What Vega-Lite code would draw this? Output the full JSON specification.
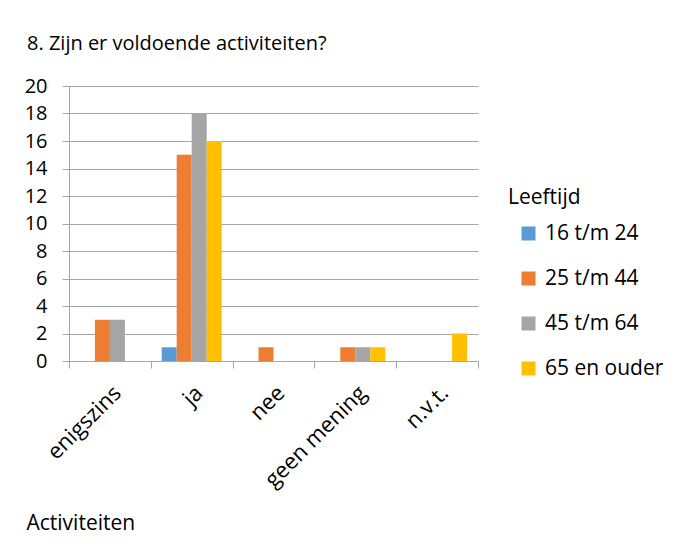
{
  "$schema": "https://vega.github.io/schema/vega-lite/v6.json",
  "width": 409,
  "height": 275,
  "autosize": {"type": "none"},
  "padding": {"left": 69, "top": 86, "right": 198, "bottom": 185},
  "background": "white",
  "title": {
    "text": "8. Zijn er voldoende activiteiten?",
    "anchor": "start",
    "frame": "group",
    "font": "Open Sans",
    "fontSize": 20,
    "fontWeight": "normal",
    "color": "black",
    "dx": -42,
    "offset": 22
  },
  "data": {
    "values": [
      {"activiteit": "enigszins", "leeftijd": "16 t/m 24", "aantal": 0},
      {"activiteit": "enigszins", "leeftijd": "25 t/m 44", "aantal": 3},
      {"activiteit": "enigszins", "leeftijd": "45 t/m 64", "aantal": 3},
      {"activiteit": "enigszins", "leeftijd": "65 en ouder", "aantal": 0},
      {"activiteit": "ja", "leeftijd": "16 t/m 24", "aantal": 1},
      {"activiteit": "ja", "leeftijd": "25 t/m 44", "aantal": 15},
      {"activiteit": "ja", "leeftijd": "45 t/m 64", "aantal": 18},
      {"activiteit": "ja", "leeftijd": "65 en ouder", "aantal": 16},
      {"activiteit": "nee", "leeftijd": "16 t/m 24", "aantal": 0},
      {"activiteit": "nee", "leeftijd": "25 t/m 44", "aantal": 1},
      {"activiteit": "nee", "leeftijd": "45 t/m 64", "aantal": 0},
      {"activiteit": "nee", "leeftijd": "65 en ouder", "aantal": 0},
      {"activiteit": "geen mening", "leeftijd": "16 t/m 24", "aantal": 0},
      {"activiteit": "geen mening", "leeftijd": "25 t/m 44", "aantal": 1},
      {"activiteit": "geen mening", "leeftijd": "45 t/m 64", "aantal": 1},
      {"activiteit": "geen mening", "leeftijd": "65 en ouder", "aantal": 1},
      {"activiteit": "n.v.t.", "leeftijd": "16 t/m 24", "aantal": 0},
      {"activiteit": "n.v.t.", "leeftijd": "25 t/m 44", "aantal": 0},
      {"activiteit": "n.v.t.", "leeftijd": "45 t/m 64", "aantal": 0},
      {"activiteit": "n.v.t.", "leeftijd": "65 en ouder", "aantal": 2}
    ]
  },
  "mark": {"type": "bar"},
  "encoding": {
    "x": {
      "field": "activiteit",
      "type": "nominal",
      "sort": ["enigszins", "ja", "nee", "geen mening", "n.v.t."],
      "scale": {"paddingInner": 0, "paddingOuter": 0},
      "axis": {
        "title": "Activiteiten",
        "titleAnchor": "start",
        "titleAlign": "left",
        "titleBaseline": "middle",
        "titleX": -43,
        "titleY": 162,
        "titleFont": "Open Sans",
        "titleFontSize": 21,
        "titleFontWeight": "normal",
        "titleColor": "black",
        "labelAngle": -45,
        "labelFont": "Open Sans",
        "labelFontSize": 22,
        "labelColor": "black",
        "labelPadding": 14,
        "labelDx": 4,
        "tickBand": "extent",
        "tickSize": 7,
        "tickColor": "#a6a6a6",
        "domainColor": "#a6a6a6",
        "grid": false
      }
    },
    "xOffset": {
      "field": "leeftijd",
      "type": "nominal",
      "sort": ["16 t/m 24", "25 t/m 44", "45 t/m 64", "65 en ouder"],
      "scale": {"paddingInner": 0, "paddingOuter": 0.726}
    },
    "y": {
      "field": "aantal",
      "type": "quantitative",
      "scale": {"domain": [0, 20]},
      "axis": {
        "title": null,
        "values": [0, 2, 4, 6, 8, 10, 12, 14, 16, 18, 20],
        "labelFont": "Open Sans",
        "labelFontSize": 20,
        "labelColor": "black",
        "labelPadding": 15,
        "tickSize": 7,
        "tickColor": "#a6a6a6",
        "domainColor": "#a6a6a6",
        "gridColor": "#a6a6a6",
        "grid": true
      }
    },
    "color": {
      "field": "leeftijd",
      "type": "nominal",
      "sort": ["16 t/m 24", "25 t/m 44", "45 t/m 64", "65 en ouder"],
      "scale": {
        "domain": ["16 t/m 24", "25 t/m 44", "45 t/m 64", "65 en ouder"],
        "range": ["#5B9BD5", "#ED7D31", "#A5A5A5", "#FFC000"]
      },
      "legend": {
        "title": "Leeftijd",
        "orient": "none",
        "legendX": 439,
        "legendY": 101,
        "padding": 0,
        "titleFont": "Open Sans",
        "titleFontSize": 21,
        "titleFontWeight": "normal",
        "titleColor": "black",
        "titlePadding": 15,
        "labelFont": "Open Sans",
        "labelFontSize": 21,
        "labelColor": "black",
        "labelOffset": 6,
        "symbolType": "square",
        "symbolSize": 196,
        "symbolStrokeWidth": 0,
        "symbolOffset": 10,
        "rowPadding": 23
      }
    }
  },
  "config": {
    "view": {"stroke": null},
    "axis": {"gridWidth": 1}
  }
}
